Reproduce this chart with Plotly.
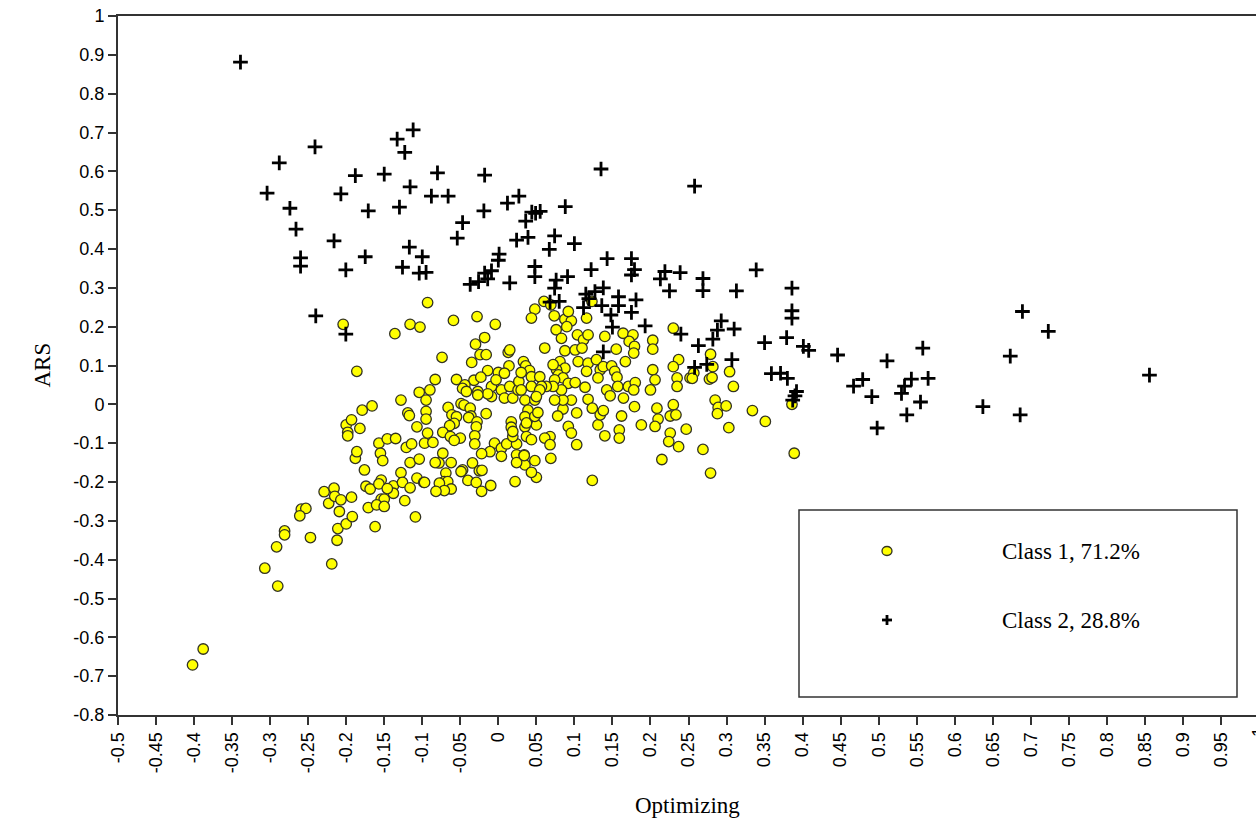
import plotly.graph_objects as go

# Class 1 observations (Optimizing, ARS)
class1_x = [
    -0.388, -0.402, -0.290, -0.307, -0.2915, -0.281, -0.281, -0.247, -0.219, -0.212,
    -0.211, -0.259, -0.253, -0.261, -0.229, -0.216, -0.223, -0.215, -0.207, -0.209,
    -0.200, -0.192, -0.193, -0.174, -0.1685, -0.171, -0.162, -0.176, -0.188, -0.186,
    -0.182, -0.179, -0.166, -0.200, -0.193, -0.198, -0.198, -0.157, -0.155, -0.152,
    -0.146, -0.135, -0.154, -0.157, -0.154, -0.150, -0.160, -0.150, -0.138, -0.138,
    -0.146, -0.128, -0.126, -0.116, -0.123, -0.109, -0.116, -0.104, -0.121, -0.114,
    -0.107, -0.119, -0.117, -0.097, -0.093, -0.095, -0.095, -0.107, -0.098, -0.128,
    -0.093, -0.204, -0.116, -0.103, -0.136, -0.059, -0.028, -0.004, -0.018, -0.030,
    -0.024, -0.016, -0.035, -0.074, -0.186, -0.083, -0.055, 0.013, 0.015, 0.014,
    0.033, 0.036, 0.041, -0.014, 0.000, 0.008, -0.032, -0.023, -0.044, -0.047,
    -0.042, -0.009, -0.003, -0.009, -0.014, -0.027, -0.027, 0.004, 0.008, 0.019,
    0.015, 0.026, 0.027, 0.035, 0.039, 0.035, -0.104, -0.090, -0.095,
    -0.066, -0.049, -0.045, -0.037, -0.036, -0.061, -0.055, -0.058, -0.064, -0.073,
    -0.063, -0.050, -0.058, -0.039, -0.028, -0.029, -0.031, -0.031, -0.016, -0.005,
    -0.011, 0.004, 0.004, 0.011, 0.024, 0.019, 0.017, 0.017, 0.019, 0.035,
    0.037, 0.024, 0.034, 0.035, 0.024, -0.022, -0.034, -0.047, -0.062, -0.073,
    -0.078, -0.083, -0.086,
    0.048, 0.0435, 0.060, 0.069, 0.0735, 0.0875, 0.096, 0.092, 0.116, 0.123,
    0.076, 0.083, 0.090, 0.104, 0.112, 0.118, 0.140, 0.164, 0.177, 0.172,
    0.179, 0.178, 0.203, 0.203, 0.230, 0.155, 0.167, 0.061, 0.0875, 0.101,
    0.110, 0.105, 0.118, 0.129, 0.116, 0.134, 0.138, 0.149, 0.153, 0.131,
    0.156, 0.157, 0.081, 0.0875, 0.0765, 0.072, 0.079, 0.085, 0.074, 0.092,
    0.101, 0.114, 0.1425, 0.147, 0.1645, 0.171, 0.180, 0.178, 0.200, 0.203,
    0.206, 0.237, 0.230, 0.235, 0.235, 0.252, 0.230, 0.226, 0.2335, 0.2085,
    0.210, 0.206, 0.247, 0.226, 0.224, 0.237, 0.215, 0.188, 0.162, 0.179,
    0.131, 0.140, 0.159, 0.159, 0.118, 0.1235, 0.134, 0.138, 0.103, 0.085,
    0.078, 0.096, 0.085, 0.074, 0.083, 0.072, 0.063, 0.092, 0.096, 0.103,
    0.068, 0.061, 0.068, 0.0435, 0.069, 0.048, 0.034, 0.050, 0.037, 0.048,
    0.052, 0.048, 0.0435, 0.0545, 0.0435, 0.0567, 0.0545, 0.050, 0.030, 0.030,
    0.279, 0.282, 0.257, 0.255, 0.2775, 0.281, 0.304, 0.309, 0.285, 0.289,
    0.2995, 0.288, 0.334, 0.351, 0.303, 0.269, 0.279, 0.386, 0.389,
    -0.069, -0.071, -0.0665, -0.0775, -0.062, -0.071, -0.082, -0.097, -0.049, -0.040,
    -0.029, -0.022, -0.010, -0.025, -0.0215, 0.022, 0.050, 0.0435, 0.1235,
]
class1_y = [
    -0.630, -0.671, -0.468, -0.422, -0.367, -0.326, -0.336, -0.343, -0.411, -0.350,
    -0.320, -0.270, -0.268, -0.287, -0.225, -0.216, -0.255, -0.237, -0.246, -0.276,
    -0.308, -0.289, -0.239, -0.211, -0.218, -0.266, -0.315, -0.169, -0.139, -0.122,
    -0.062, -0.015, -0.004, -0.053, -0.040, -0.072, -0.081, -0.100, -0.126, -0.145,
    -0.089, -0.088, -0.195, -0.205, -0.244, -0.244, -0.259, -0.263, -0.210, -0.229,
    -0.217, -0.176, -0.201, -0.215, -0.248, -0.290, -0.150, -0.141, -0.111, -0.102,
    -0.058, -0.022, -0.029, -0.100, -0.074, -0.018, -0.038, -0.190, -0.201, 0.011,
    0.262, 0.206, 0.206, 0.199, 0.182, 0.216, 0.226, 0.206, 0.172, 0.155,
    0.128, 0.128, 0.108, 0.121, 0.085, 0.064, 0.064, 0.134, 0.140, 0.099,
    0.110, 0.099, 0.087, 0.087, 0.082, 0.080, 0.062, 0.070, 0.050, 0.041,
    0.033, 0.046, 0.063, 0.020, 0.027, 0.033, 0.024, 0.037, 0.016, 0.016,
    0.046, 0.037, 0.059, 0.011, -0.015, -0.032, 0.031, 0.037, 0.011,
    -0.008, 0.002, -0.002, -0.010, -0.030, -0.027, -0.032, -0.049, -0.055, -0.072,
    -0.083, -0.087, -0.093, -0.034, -0.045, -0.058, -0.081, -0.102, -0.024, -0.100,
    -0.122, -0.113, -0.134, -0.102, -0.102, -0.083, -0.045, -0.059, -0.070, -0.058,
    -0.083, -0.130, -0.130, -0.156, -0.150, -0.127, -0.151, -0.169, -0.150, -0.126,
    -0.151, -0.150, -0.098,
    0.245, 0.222, 0.265, 0.256, 0.228, 0.219, 0.215, 0.239, 0.222, 0.265,
    0.192, 0.170, 0.200, 0.179, 0.166, 0.179, 0.175, 0.183, 0.179, 0.162,
    0.149, 0.132, 0.165, 0.142, 0.196, 0.142, 0.110, 0.145, 0.138, 0.140,
    0.145, 0.110, 0.106, 0.115, 0.085, 0.089, 0.097, 0.099, 0.085, 0.068,
    0.070, 0.046, 0.110, 0.093, 0.089, 0.102, 0.076, 0.068, 0.063, 0.054,
    0.056, 0.044, 0.037, 0.022, 0.016, 0.046, 0.056, 0.037, 0.037, 0.089,
    0.063, 0.115, 0.097, 0.068, 0.046, 0.068, -0.001, -0.030, -0.027, -0.010,
    -0.038, -0.057, -0.064, -0.074, -0.096, -0.109, -0.142, -0.053, -0.030, -0.006,
    -0.053, -0.081, -0.066, -0.087, 0.013, -0.010, -0.027, -0.016, -0.022, -0.012,
    -0.030, 0.011, 0.011, 0.011, 0.037, 0.046, 0.046, -0.057, -0.074, -0.104,
    -0.083, -0.087, -0.104, -0.091, -0.139, -0.145, -0.132, -0.053, -0.048, -0.031,
    -0.021, 0.011, 0.071, 0.071, 0.046, 0.046, 0.037, 0.020, 0.082, 0.037,
    0.129, 0.097, 0.081, 0.067, 0.065, 0.069, 0.084, 0.046, 0.011, -0.008,
    -0.004, -0.024, -0.016, -0.044, -0.060, -0.116, -0.177, 0.000, -0.126,
    -0.177, -0.199, -0.199, -0.203, -0.218, -0.222, -0.224, -0.201, -0.173, -0.196,
    -0.201, -0.224, -0.209, -0.171, -0.170, -0.199, -0.188, -0.175, -0.196,
]

# Class 2 observations (Optimizing, ARS)
class2_x = [
    -0.339, -0.241, -0.288, -0.304, -0.274, -0.266, -0.260, -0.260, -0.188, -0.207,
    -0.216, -0.2005, -0.175, -0.171, -0.150, -0.133, -0.112, -0.123, -0.116, -0.130,
    -0.117, -0.126, -0.100, -0.104, -0.095, -0.080, -0.088, -0.066, -0.018, -0.019,
    -0.047, -0.054, 0.001, 0.000, -0.009, -0.018, -0.014, -0.026, -0.037, 0.015,
    0.012, 0.027, 0.036, 0.044, 0.049, 0.055, 0.024, 0.039, 0.048, 0.048,
    0.088, 0.074, 0.067, 0.100, 0.076, 0.074, 0.091, 0.122, 0.080, 0.068,
    0.112, 0.115, 0.119, 0.127, 0.135, -0.240,
    0.258, 0.143, 0.175, 0.179, 0.175, 0.219, 0.213, 0.239, 0.269, 0.225,
    0.269, 0.313, 0.339, 0.386, 0.386, 0.386, 0.138, 0.158, 0.181, 0.136,
    0.158, 0.148, 0.175, 0.150, 0.193, 0.240, 0.293, 0.288, 0.310, 0.282,
    0.263, 0.350, 0.379, 0.401, 0.408, 0.446, 0.511, 0.558, 0.138, 0.307,
    0.258, 0.274,
    0.689, 0.723, 0.673, 0.856, 0.479, 0.467, 0.491, 0.498, 0.543, 0.565,
    0.534, 0.530, 0.555, 0.537, 0.637, 0.686,
    -0.2005, 0.359, 0.371, 0.380, 0.392, 0.390, 0.387,
]
class2_y = [
    0.881, 0.663, 0.622, 0.544, 0.505, 0.451, 0.377, 0.356, 0.589, 0.542,
    0.421, 0.346, 0.380, 0.498, 0.593, 0.683, 0.707, 0.649, 0.560, 0.508,
    0.405, 0.353, 0.380, 0.338, 0.340, 0.596, 0.536, 0.536, 0.590, 0.498,
    0.468, 0.428, 0.387, 0.371, 0.344, 0.338, 0.323, 0.316, 0.309, 0.313,
    0.518, 0.536, 0.472, 0.495, 0.492, 0.497, 0.423, 0.430, 0.355, 0.329,
    0.509, 0.434, 0.399, 0.414, 0.320, 0.299, 0.329, 0.347, 0.265, 0.263,
    0.249, 0.284, 0.272, 0.290, 0.606, 0.228,
    0.562, 0.375, 0.375, 0.347, 0.333, 0.342, 0.323, 0.339, 0.324, 0.292,
    0.293, 0.292, 0.346, 0.299, 0.241, 0.222, 0.300, 0.277, 0.269, 0.254,
    0.254, 0.230, 0.237, 0.199, 0.202, 0.181, 0.215, 0.191, 0.194, 0.168,
    0.151, 0.159, 0.172, 0.149, 0.139, 0.127, 0.112, 0.145, 0.135, 0.115,
    0.095, 0.103,
    0.239, 0.188, 0.124, 0.075, 0.064, 0.047, 0.020, -0.061, 0.065, 0.067,
    0.047, 0.028, 0.006, -0.027, -0.006, -0.027,
    0.181, 0.079, 0.080, 0.067, 0.033, 0.022, 0.011,
]

class_labels = ["Class 1, 71.2%", "Class 2, 28.8%"]
x_title = "Optimizing"
y_title = "ARS"

# tick positions and their printed labels (plain hyphen for negatives)
x_tickvals = [-0.5, -0.45, -0.4, -0.35, -0.3, -0.25, -0.2, -0.15, -0.1, -0.05,
              0.0, 0.05, 0.1, 0.15, 0.2, 0.25, 0.3, 0.35, 0.4, 0.45,
              0.5, 0.55, 0.6, 0.65, 0.7, 0.75, 0.8, 0.85, 0.9, 0.95]
x_ticktext = ["-0.5", "-0.45", "-0.4", "-0.35", "-0.3", "-0.25", "-0.2", "-0.15", "-0.1", "-0.05",
              "0", "0.05", "0.1", "0.15", "0.2", "0.25", "0.3", "0.35", "0.4", "0.45",
              "0.5", "0.55", "0.6", "0.65", "0.7", "0.75", "0.8", "0.85", "0.9", "0.95"]
x_last_tick = 1.0
x_last_text = "1"
y_tickvals = [-0.8, -0.7, -0.6, -0.5, -0.4, -0.3, -0.2, -0.1, 0.0,
              0.1, 0.2, 0.3, 0.4, 0.5, 0.6, 0.7, 0.8, 0.9, 1.0]
y_ticktext = ["-0.8", "-0.7", "-0.6", "-0.5", "-0.4", "-0.3", "-0.2", "-0.1", "0",
              "0.1", "0.2", "0.3", "0.4", "0.5", "0.6", "0.7", "0.8", "0.9", "1"]

W, H = 1256, 825
L, R, T, B = 118, 0, 16, 110
plot_w = W - L - R
plot_h = H - T - B
# x axis scale: 0.05 per ~38 px, extending just past the right edge of the page
x_span_px = 1141
x_max = -0.5 + plot_w * 1.5 / x_span_px

tick_font = dict(family="Liberation Sans, Arial, sans-serif", size=18, color="#000")
serif = "Liberation Serif, Times New Roman, serif"
axis_col = "#333333"

fig = go.Figure()
fig.add_trace(go.Scatter(
    x=class1_x, y=class1_y, mode="markers", name=class_labels[0],
    marker=dict(symbol="circle", size=10.5, color="#ffff00",
                line=dict(color="#333322", width=1.3)),
    cliponaxis=False,
))
fig.add_trace(go.Scatter(
    x=class2_x, y=class2_y, mode="markers", name=class_labels[1],
    marker=dict(symbol="cross-thin", size=10.5, color="#000",
                line=dict(color="#000", width=2.8)),
    cliponaxis=False,
))

fig.update_layout(
    width=W, height=H,
    margin=dict(l=L, r=R, t=T, b=B, pad=0),
    paper_bgcolor="white", plot_bgcolor="white",
    showlegend=False,
    xaxis=dict(
        range=[-0.5, x_max], tickmode="array", tickvals=x_tickvals, ticktext=x_ticktext,
        tickangle=-90, ticks="outside", ticklen=8, tickwidth=1.5, tickcolor=axis_col,
        showline=True, linecolor=axis_col, linewidth=2, mirror=True,
        showgrid=False, zeroline=False, tickfont=tick_font,
    ),
    yaxis=dict(
        range=[-0.8, 1.0], tickmode="array", tickvals=y_tickvals, ticktext=y_ticktext,
        ticks="outside", ticklen=8, tickwidth=1.5, tickcolor=axis_col,
        showline=True, linecolor=axis_col, linewidth=2,
        showgrid=False, zeroline=False, tickfont=tick_font,
    ),
)

# axis titles
fig.add_annotation(text=x_title, xref="paper", yref="paper",
                   x=0.5, y=-(805 - 715) / plot_h, xanchor="center", yanchor="middle",
                   showarrow=False, font=dict(family=serif, size=23, color="#000"))
fig.add_annotation(text=y_title, xref="paper", yref="paper",
                   x=-(118 - 42) / plot_w, y=0.5, xanchor="center", yanchor="middle",
                   textangle=-90, showarrow=False,
                   font=dict(family=serif, size=23, color="#000"))

# last tick label sits just past the page edge
fig.add_annotation(text=x_last_text, xref="paper", yref="paper",
                   x=(x_last_tick + 0.5) * x_span_px / 1.5 / plot_w, y=0,
                   xanchor="center", yanchor="top", yshift=-10, textangle=-90,
                   showarrow=False, font=tick_font)

# legend box
def px_x(p):
    return (p - L) / plot_w

def px_y(p):
    return (H - B - p) / plot_h

fig.add_shape(type="rect", xref="paper", yref="paper",
              x0=px_x(799), x1=px_x(1237), y0=px_y(697), y1=px_y(510),
              line=dict(color=axis_col, width=1.5), fillcolor="white", layer="above")
fig.add_shape(type="circle", xref="paper", yref="paper",
              xsizemode="pixel", ysizemode="pixel",
              xanchor=px_x(887), yanchor=px_y(551),
              x0=-5, x1=5, y0=-4.5, y1=4.5,
              fillcolor="#ffff00", line=dict(color="#333322", width=1.3), layer="above")
for (dx0, dx1, dy0, dy1) in [(-5, 5, 0, 0), (0, 0, -5, 5)]:
    fig.add_shape(type="line", xref="paper", yref="paper",
                  xsizemode="pixel", ysizemode="pixel",
                  xanchor=px_x(887), yanchor=px_y(620),
                  x0=dx0, x1=dx1, y0=dy0, y1=dy1,
                  line=dict(color="#000", width=2.8), layer="above")
for lab, yy in zip(class_labels, [551, 620]):
    fig.add_annotation(text=lab, xref="paper", yref="paper",
                       x=px_x(1071), y=px_y(yy), xanchor="center", yanchor="middle",
                       showarrow=False, font=dict(family=serif, size=23, color="#000"))

fig.write_html("out.html")
